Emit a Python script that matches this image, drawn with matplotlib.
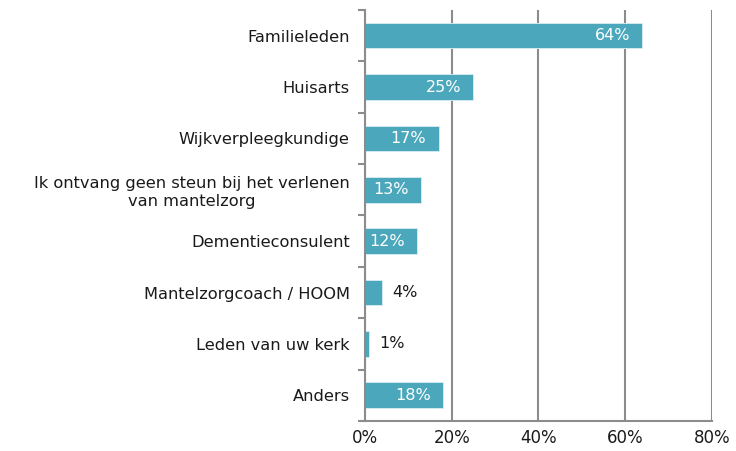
import numpy as np
import matplotlib.pyplot as plt
from matplotlib.ticker import FixedLocator, PercentFormatter

# Data
categories = [
    "Familieleden",
    "Huisarts",
    "Wijkverpleegkundige",
    "Ik ontvang geen steun bij het verlenen\nvan mantelzorg",
    "Dementieconsulent",
    "Mantelzorgcoach / HOOM",
    "Leden van uw kerk",
    "Anders",
]
values = [64, 25, 17, 13, 12, 4, 1, 18]

bar_color = "#4BA8BC"
grid_color = "#8C8C8C"

plt.rcParams["font.family"] = "DejaVu Sans"

fig = plt.figure(figsize=(7.36, 4.51), dpi=100)
ax = fig.add_axes([0.496, 0.0665, 0.471, 0.9115])

y = np.arange(len(categories))
bars = ax.barh(y, values, height=0.5, color=bar_color, edgecolor="#D9EEF2",
               linewidth=0.6, zorder=3)

ax.set_xlim(0, 80)
ax.set_ylim(len(categories) - 0.5, -0.5)
ax.set_xticks([0, 20, 40, 60, 80])
ax.xaxis.set_major_formatter(PercentFormatter(decimals=0))
ax.grid(axis="x", color=grid_color, linewidth=1.5, zorder=0)

ax.set_yticks(y)
ax.set_yticklabels(categories, fontsize=11.7, color="#1a1a1a")
for lab in ax.get_yticklabels():
    lab.set_multialignment("center")
ax.yaxis.set_minor_locator(FixedLocator(np.arange(len(categories) + 1) - 0.5))
ax.tick_params(axis="y", which="major", length=0, pad=11)
ax.tick_params(axis="y", which="minor", length=5, width=1.5, color=grid_color)
ax.tick_params(axis="x", length=0, pad=6, labelsize=12, labelcolor="#1a1a1a")

for side in ["top", "right"]:
    ax.spines[side].set_visible(False)
for side in ["left", "bottom"]:
    ax.spines[side].set_color(grid_color)
    ax.spines[side].set_linewidth(1.5)
    ax.spines[side].set_zorder(4)

# value labels: inside in white for larger bars, outside in black for small ones
for yi, v in zip(y, values):
    if v >= 10:
        ax.annotate(f"{v}%", xy=(v, yi), xytext=(-9, 0), textcoords="offset points",
                    ha="right", va="center", color="white", fontsize=11.5, zorder=5)
    else:
        ax.annotate(f"{v}%", xy=(v, yi), xytext=(7, 0), textcoords="offset points",
                    ha="left", va="center", color="#1a1a1a", fontsize=11.5, zorder=5)

fig.savefig("out.png", dpi=100)
